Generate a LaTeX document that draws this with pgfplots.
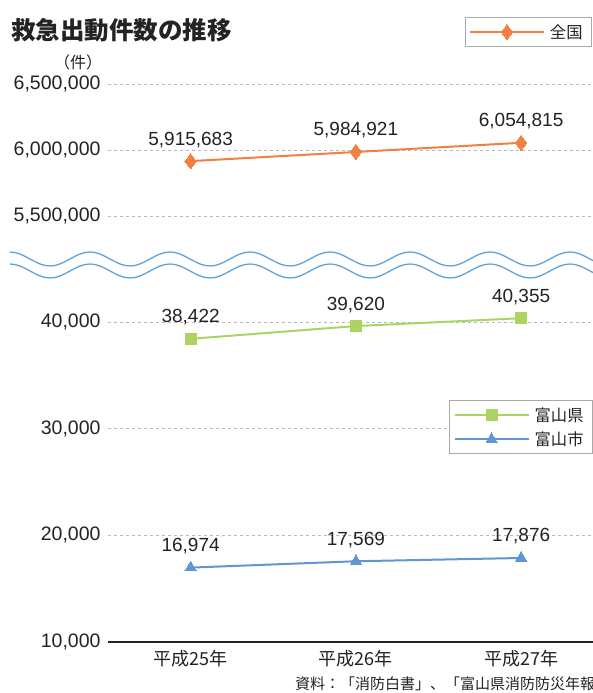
\documentclass[border=0pt]{standalone}
\usepackage{pgfplots}
\pgfplotsset{compat=1.18}
\usepackage{fontspec}
\setmainfont{Liberation Sans}
\newfontfamily\jp{Noto Sans CJK JP}
\definecolor{cOr}{RGB}{242,128,66}
\definecolor{cGr}{RGB}{172,212,100}
\definecolor{cBl}{RGB}{96,150,210}
\definecolor{cWave}{RGB}{100,160,215}
\definecolor{cGrid}{RGB}{185,185,185}
\definecolor{cTxt}{RGB}{35,35,35}
\definecolor{cLeg}{RGB}{170,170,170}

\pgfplotstableread{
x y label
0 5915683 {5,915,683}
1 5984921 {5,984,921}
2 6054815 {6,054,815}
}\national
\pgfplotstableread{
x y label
0 38422 {38,422}
1 39620 {39,620}
2 40355 {40,355}
}\pref
\pgfplotstableread{
x y label
0 16974 {16,974}
1 17569 {17,569}
2 17876 {17,876}
}\city

\pgfplotsset{
  common/.style={
    scale only axis,
    width=485pt,
    xmin=-0.5, xmax=2.435,
    axis line style={draw=none},
    tick style={draw=none},
    ymajorgrids,
    major grid style={cGrid, line width=0.9pt, dash pattern=on 3pt off 3pt},
    scaled y ticks=false,
    /pgf/number format/assume math mode=true,
    yticklabel style={font=\fontsize{19.5}{19.5}\selectfont, text=cTxt, xshift=-4pt,
      /pgf/number format/fixed, /pgf/number format/1000 sep={,}},
    clip=false,
    point meta=explicit symbolic,
    nodes near coords={\pgfplotspointmeta},
    nodes near coords style={font=\fontsize{19}{19}\selectfont, text=cTxt, anchor=base, yshift=16pt},
    legend cell align=left,
    legend image code/.code={\draw[mark repeat=2, mark phase=2, #1, line width=2pt] plot coordinates {(0pt,0pt) (37pt,0pt) (74pt,0pt)};},
    legend style={draw=cLeg, line width=0.9pt, fill=white, font=\jp\fontsize{16.3}{16.3}\selectfont, text=cTxt,
      inner xsep=4pt, inner ysep=5pt, anchor=north east, row sep=5pt,
      nodes={inner xsep=5pt}},
  }
}

\begin{document}
\begin{tikzpicture}
\useasboundingbox (0pt,0pt) rectangle (593pt,693pt);
\fill[white] (0pt,0pt) rectangle (593pt,693pt);

% title and unit
\node[anchor=west, inner sep=0pt, text=cTxt] at (11pt,663pt) {\jp\bfseries\fontsize{24.5}{24.5}\selectfont 救急出動件数の推移};
\node[inner sep=0pt, text=cTxt] at (78pt,631pt) {\jp\fontsize{16}{16}\selectfont （件）};

% wavy break
\foreach \c in {434,422} {
  \draw[cWave, line width=1.3pt] (10pt,\c pt+7pt) \foreach \k in {0,...,7} { cos ++(20pt,-7pt) sin ++(20pt,-7pt) cos ++(20pt,7pt) sin ++(20pt,7pt) };
}

% top axis
\begin{axis}[common, at={(108pt,453pt)}, anchor=south west, height=156pt,
  ymin=5318182, ymax=6500000,
  ytick={5500000,6000000,6500000},
  xtick=\empty,
  legend style={at={(rel axis cs:0.998,1.4295)}},
]
\addplot[cOr, line width=2pt, mark=diamond*, mark size=7.5pt, mark options={fill=cOr, draw=cOr, line width=0pt}]
  table[x=x, y=y, meta=label] {\national};
\addlegendentry{全国}
\end{axis}

% bottom axis
\begin{axis}[common, at={(108pt,51pt)}, anchor=south west, height=352pt,
  ymin=10000, ymax=43000,
  ytick={10000,20000,30000,40000},
  xtick={0,1,2},
  xticklabels={平成25年,平成26年,平成27年},
  xticklabel style={font=\jp\fontsize{18}{18}\selectfont, text=cTxt, yshift=-5pt},
  legend style={at={(rel axis cs:1.0,0.6875)}},
]
\addplot[cGr, line width=2pt, mark=square*, mark size=5.5pt, mark options={fill=cGr, draw=cGr, line width=0pt}]
  table[x=x, y=y, meta=label] {\pref};
\addlegendentry{富山県}
\addplot[cBl, line width=2pt, mark=triangle*, mark size=6.5pt, mark options={fill=cBl, draw=cBl, line width=0pt}]
  table[x=x, y=y, meta=label] {\city};
\addlegendentry{富山市}
\draw[cTxt, line width=1.2pt] (rel axis cs:0,0) -- (rel axis cs:1,0);
\end{axis}

% source
\node[anchor=west, inner sep=0pt, text=cTxt] at (295pt,9pt) {\jp\fontsize{15}{15}\selectfont 資料：「消防白書」、「富山県消防防災年報」};
\end{tikzpicture}
\end{document}
